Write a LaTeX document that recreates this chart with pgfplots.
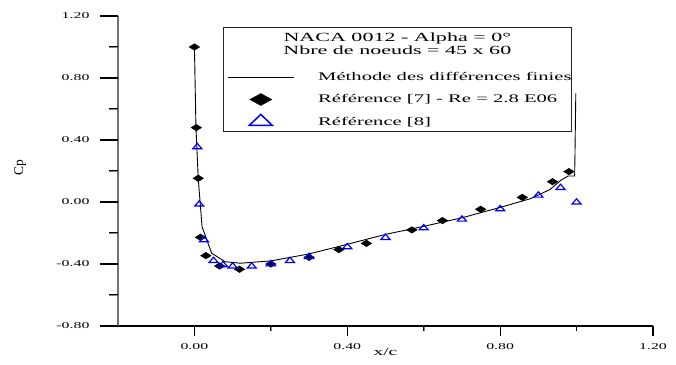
\documentclass[border=0pt]{standalone}
\usepackage{fontspec}
\setmainfont{Liberation Serif}[FakeStretch=1.77]
\newfontfamily\plainserif{Liberation Serif}
\usepackage{pgfplots}
\pgfplotsset{compat=1.18}

\pgfplotsset{
  frame/.style={
    scale only axis, width=535bp, height=310bp,
    at={(0bp,0bp)}, anchor=south west,
    xmin=-0.2, xmax=1.2, ymin=-0.8, ymax=1.2,
    clip=false,
    xticklabel={\pgfmathprintnumber[fixed, fixed zerofill, precision=2, assume math mode=true]{\tick}},
    yticklabel={\pgfmathprintnumber[fixed, fixed zerofill, precision=2, assume math mode=true]{\tick}},
  }
}

\begin{document}
\begin{tikzpicture}
% x axis with its own (shorter) ticks
\begin{axis}[frame,
  axis x line*=bottom, axis y line=none,
  x axis line style={-, black, line width=1.2bp},
  xtick align=outside,
  major tick length=10bp, minor tick length=5bp,
  xtick={0,0.4,0.8,1.2}, minor xtick={0.2,0.6,1.0},
  xticklabel style={font=\fontsize{9}{10}\selectfont, yshift=-4bp},
  xlabel={x/c},
  xlabel style={font=\fontsize{11}{12}\selectfont, at={(axis description cs:0.5,0)}, anchor=center, yshift=-25.5bp},
]
% tick strokes below the x axis (10bp major, 5bp minor)
\draw[black, line width=1.2bp] (axis cs:0,-0.8) -- (axis cs:0,-0.86452);
\draw[black, line width=1.2bp] (axis cs:0.4,-0.8) -- (axis cs:0.4,-0.86452);
\draw[black, line width=1.2bp] (axis cs:0.8,-0.8) -- (axis cs:0.8,-0.86452);
\draw[black, line width=1.2bp] (axis cs:1.2,-0.8) -- (axis cs:1.2,-0.86452);
\draw[black, line width=1bp] (axis cs:0.2,-0.8) -- (axis cs:0.2,-0.83226);
\draw[black, line width=1bp] (axis cs:0.6,-0.8) -- (axis cs:0.6,-0.83226);
\draw[black, line width=1bp] (axis cs:1.0,-0.8) -- (axis cs:1.0,-0.83226);
\end{axis}
% y axis and data
\begin{axis}[frame,
  axis x line=none, axis y line*=left,
  y axis line style={-, black!55, line width=1.8bp},
  ytick align=outside,
  major tick length=18bp, minor tick length=9bp,
  ytick={-0.8,-0.4,0,0.4,0.8,1.2}, minor ytick={-0.6,-0.2,0.2,0.6,1.0},
  yticklabel style={font=\fontsize{9}{10}\selectfont, xshift=-7bp},
  ylabel={Cp},
  ylabel style={font=\plainserif\fontsize{13.5}{15}\selectfont, at={(axis description cs:0,0.51)}, anchor=center, yshift=98bp},
  legend style={at={(axis cs:0.0855,0.876)}, anchor=north west, draw=none, fill=none,
    inner sep=0pt, outer sep=0pt, column sep=23.7bp, row sep=0pt,
    nodes={inner sep=0pt, minimum height=22.2bp, font=\fontsize{11.7}{13}\selectfont}},
  legend cell align=left,
]
% tick strokes left of the y axis (18bp major, 9bp minor)
\draw[black, line width=1.2bp] (axis cs:-0.2,-0.8) -- (axis cs:-0.24706,-0.8);
\draw[black, line width=1.2bp] (axis cs:-0.2,-0.4) -- (axis cs:-0.24706,-0.4);
\draw[black, line width=1.2bp] (axis cs:-0.2,0) -- (axis cs:-0.24706,0);
\draw[black, line width=1.2bp] (axis cs:-0.2,0.4) -- (axis cs:-0.24706,0.4);
\draw[black, line width=1.2bp] (axis cs:-0.2,0.8) -- (axis cs:-0.24706,0.8);
\draw[black, line width=1.2bp] (axis cs:-0.2,1.2) -- (axis cs:-0.24706,1.2);
\draw[black, line width=1bp] (axis cs:-0.2,-0.6) -- (axis cs:-0.22353,-0.6);
\draw[black, line width=1bp] (axis cs:-0.2,-0.2) -- (axis cs:-0.22353,-0.2);
\draw[black, line width=1bp] (axis cs:-0.2,0.2) -- (axis cs:-0.22353,0.2);
\draw[black, line width=1bp] (axis cs:-0.2,0.6) -- (axis cs:-0.22353,0.6);
\draw[black, line width=1bp] (axis cs:-0.2,1.0) -- (axis cs:-0.22353,1.0);

% finite-difference solution
\addplot[black, line width=0.9bp, mark=none,
  legend image code/.code={\draw[black, line width=1.1bp] (0bp,0bp) -- (66.3bp,0bp);}]
  coordinates {
  (0.000, 1.000) (0.004, 0.480) (0.010, 0.150) (0.020, -0.160)
  (0.045, -0.330) (0.080, -0.385) (0.120, -0.395) (0.200, -0.380)
  (0.300, -0.335) (0.400, -0.273) (0.500, -0.209) (0.600, -0.157)
  (0.700, -0.102) (0.800, -0.035) (0.880, 0.022) (0.930, 0.080)
  (0.960, 0.142) (0.978, 0.168) (0.995, 0.168) (0.998, 0.700)
};
\addlegendentry{Méthode des différences finies}

% experimental data, Re = 2.8E6
\addplot[only marks, black, mark=diamond*, mark size=3.3bp,
  mark options={xscale=2.14, fill=black},
  legend image code/.code={\draw[black, mark=diamond*, mark size=6bp, mark options={xscale=2.44, fill=black}] plot coordinates {(33.15bp,0bp)};}]
  coordinates {
  (0.000, 1.000) (0.005, 0.480) (0.010, 0.153) (0.016, -0.228)
  (0.030, -0.346) (0.066, -0.413) (0.118, -0.434) (0.200, -0.400)
  (0.300, -0.357) (0.378, -0.307) (0.450, -0.267) (0.569, -0.180)
  (0.649, -0.120) (0.749, -0.047) (0.858, 0.030) (0.937, 0.131)
  (0.980, 0.196)
};
\addlegendentry{Référence [7] - Re = 2.8 E06}

% reference solution [8]
\addplot[only marks, blue, mark=triangle, mark size=3.55bp,
  mark options={xscale=1.47, line width=1.2bp},
  legend image code/.code={\draw[blue, mark=triangle, mark size=7.3bp, mark options={xscale=1.82, line width=1.5bp}] plot coordinates {(33.15bp,0bp)};}]
  coordinates {
  (0.0075, 0.355) (0.0125, -0.015) (0.025, -0.245) (0.050, -0.379)
  (0.075, -0.406) (0.100, -0.415) (0.150, -0.415) (0.200, -0.400)
  (0.250, -0.379) (0.300, -0.353) (0.400, -0.290) (0.500, -0.230)
  (0.600, -0.168) (0.700, -0.112) (0.800, -0.045) (0.900, 0.043)
  (0.958, 0.092) (1.000, -0.002)
};
\addlegendentry{Référence [8]}

% legend frame and heading
\draw[black!85, line width=1bp] (axis cs:0.0758,0.4561) rectangle (axis cs:0.9856,1.1226);
\node[font=\fontsize{12.5}{14}\selectfont] at (axis cs:0.531,1.058) {NACA 0012 - Alpha = 0°};
\node[font=\fontsize{12.5}{14}\selectfont] at (axis cs:0.531,0.977) {Nbre de noeuds = 45 x 60};
\end{axis}
% page extent
\path (-118bp,-39bp) rectangle (558bp,326bp);
\end{tikzpicture}
\end{document}
